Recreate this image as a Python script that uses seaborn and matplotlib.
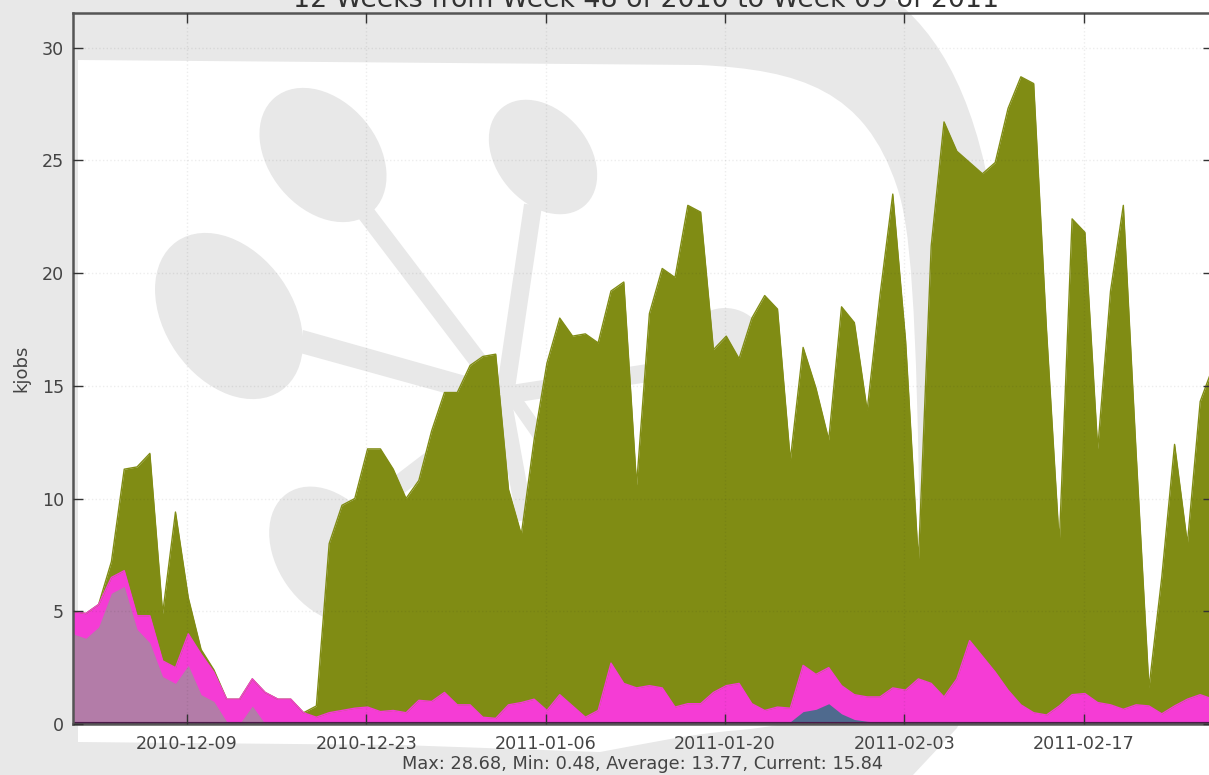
import numpy as np
import pandas as pd
import seaborn as sns
import matplotlib
matplotlib.use('Agg')
import matplotlib.pyplot as plt
from matplotlib.patches import Ellipse, Polygon, PathPatch
from matplotlib.path import Path

# stack tops in kjobs, one value per day
olive_top = [5.0, 4.9, 5.3, 7.2, 11.3, 11.4, 12.0, 4.9, 9.4, 5.6, 3.3, 2.4, 1.1, 1.1, 2.0,
             1.4, 1.1, 1.1, 0.5, 0.8, 8.0, 9.7, 10.0, 12.2, 12.2, 11.3, 10.0, 10.8, 13.0, 14.7,
             14.7, 15.9, 16.3, 16.4, 10.4, 8.4, 12.6, 16.0, 18.0, 17.2, 17.3, 16.9, 19.2, 19.6, 10.6,
             18.2, 20.2, 19.8, 23.0, 22.7, 16.6, 17.2, 16.2, 18.0, 19.0, 18.4, 11.7, 16.7, 14.9, 12.6,
             18.5, 17.8, 13.9, 19.0, 23.5, 17.0, 7.2, 21.2, 26.7, 25.4, 24.9, 24.4, 24.9, 27.3, 28.7,
             28.4, 17.5, 8.0, 22.4, 21.8, 12.2, 19.2, 23.0, 12.0, 1.6, 6.5, 12.4, 8.0, 14.3, 15.84]
magenta_top = [5.0, 4.9, 5.3, 6.5, 6.8, 4.8, 4.8, 2.8, 2.5, 4.0, 3.1, 2.3, 1.1, 1.1, 2.0,
               1.4, 1.1, 1.1, 0.5, 0.3, 0.5, 0.6, 0.7, 0.75, 0.55, 0.6, 0.5, 1.05, 1.0, 1.4,
               0.85, 0.85, 0.3, 0.25, 0.85, 0.95, 1.1, 0.6, 1.3, 0.8, 0.3, 0.6, 2.7, 1.8, 1.6,
               1.7, 1.6, 0.75, 0.9, 0.9, 1.4, 1.7, 1.8, 0.9, 0.6, 0.75, 0.7, 2.6, 2.2, 2.5,
               1.7, 1.3, 1.2, 1.2, 1.6, 1.5, 2.0, 1.8, 1.2, 2.0, 3.7, 3.0, 2.3, 1.5, 0.85,
               0.5, 0.4, 0.8, 1.3, 1.35, 0.95, 0.85, 0.65, 0.85, 0.8, 0.45, 0.8, 1.1, 1.3, 1.1]
mauve_top = [4.0, 3.8, 4.3, 5.8, 6.1, 4.2, 3.6, 2.1, 1.8, 2.6, 1.3, 1.0, 0.1, 0.0, 0.8,
             0.0] + [0.0] * 74
blue_top = [0.0] * 56 + [0.1, 0.55, 0.65, 0.9, 0.45, 0.2, 0.12, 0.08, 0.0] + [0.0] * 25

tick_labels = ['2010-12-09', '2010-12-23', '2011-01-06', '2011-01-20', '2011-02-03', '2011-02-17']
y_ticks = [0, 5, 10, 15, 20, 25, 30]
title = '12 Weeks from Week 48 of 2010 to Week 09 of 2011'
footer = 'Max: 28.68, Min: 0.48, Average: 13.77, Current: 15.84'

dates = pd.date_range('2010-11-30 02:24', periods=len(olive_top), freq='D')
df = pd.DataFrame({'date': dates, 'olive': olive_top, 'magenta': magenta_top,
                   'mauve': mauve_top, 'blue': blue_top})

sns.set_theme(style='ticks')
plt.rcParams['font.family'] = ['DejaVu Sans']

W, H = 1209, 775
GRAY = '#e8e8e8'
TEXT = '#444444'
fig = plt.figure(figsize=(W / 100, H / 100), dpi=100, facecolor=GRAY)

# watermark logo behind the plot, in pixel coordinates
bg = fig.add_axes([0, 0, 1, 1], zorder=0)
bg.set_xlim(0, W)
bg.set_ylim(H, 0)
bg.axis('off')
M, L, C, Z = Path.MOVETO, Path.LINETO, Path.CURVE4, Path.CLOSEPOLY
inner = [((78, 60), M), ((700, 65), L),
         ((800, 70), C), ((865, 90), C), ((897, 187), C),
         ((910, 225), C), ((917, 300), C), ((920, 560), C),
         ((915, 680), C), ((850, 720), C), ((740, 730), C),
         ((680, 735), C), ((640, 745), C), ((600, 752), C),
         ((400, 745), L), ((78, 742), L), ((78, 60), Z)]
outer = [((895, 0), M), ((950, 45), C), ((985, 120), C), ((1000, 260), C),
         ((1010, 400), C), ((1010, 620), C), ((957, 728), C),
         ((913, 775), L), ((W, H), L), ((W, 0), L), ((895, 0), Z)]
for shape in [inner, outer]:
    bg.add_patch(PathPatch(Path([p for p, _ in shape], [c for _, c in shape]), fc='white', ec='none'))
for xy, w, h, ang in [((323, 155), 150, 108, 50), ((543, 157), 128, 92, 50),
                      ((229, 316), 182, 128, 55), ((330, 555), 150, 105, 55),
                      ((725, 350), 84, 84, 0)]:
    bg.add_patch(Ellipse(xy, w, h, angle=ang, fc=GRAY, ec='none'))
bg.add_patch(Polygon([(303, 330), (480, 380), (470, 400), (300, 353)], fc=GRAY, ec='none'))
for (x0, y0, x1, y1, lw) in [(365, 212, 485, 370, 13), (533, 205, 505, 395, 13),
                             (510, 400, 340, 530, 14),
                             (505, 395, 700, 365, 13), (505, 410, 525, 520, 12),
                             (515, 400, 550, 450, 10)]:
    bg.plot([x0, x1], [y0, y1], color=GRAY, lw=lw, solid_capstyle='butt')

ax = fig.add_axes([73 / W, (H - 724) / H, 1140 / W, 711 / H], zorder=1)
ax.patch.set_alpha(0)

for col, color in [('olive', '#808c14'), ('magenta', '#f53cd5')]:
    ax.fill_between(df['date'], 0, df[col], color=color, lw=0)
    sns.lineplot(data=df, x='date', y=col, color=color, lw=1, ax=ax, legend=False)
ax.fill_between(df['date'], 0, df['mauve'], color='#b37ca8', lw=0, where=df['date'] < dates[20])
ax.fill_between(df['date'], 0, df['blue'], color='#4f6a8e', lw=0)
ax.axhline(0, color='#4a1a48', lw=3)

ax.set_xlim(dates[0], dates[-1])
ax.set_ylim(0, 31.53)
ax.set_xticks(pd.to_datetime(tick_labels))
ax.set_xticklabels(tick_labels)
ax.set_yticks(y_ticks)
ax.set_xlabel('')
ax.set_ylabel('kjobs', fontsize=13, color=TEXT, labelpad=8)
ax.tick_params(direction='in', top=True, right=True, length=7, width=1, color='#333333',
               labelcolor=TEXT)
ax.tick_params(axis='x', labelsize=12.6, pad=8)
ax.tick_params(axis='y', labelsize=12.6, pad=6.5)
ax.grid(True, color='k', alpha=0.08, ls=':', lw=1)
ax.set_axisbelow(False)
for s in ax.spines.values():
    s.set_color('#555555')
    s.set_linewidth(1.8)

ax.set_title(title, fontsize=19.3, color='#333333', x=0.5026, pad=4.5)
fig.text(643 / W, 1 - 764 / H, footer, fontsize=12.8, color=TEXT, ha='center', va='center')

fig.savefig('out.png', dpi=100, facecolor=GRAY)
